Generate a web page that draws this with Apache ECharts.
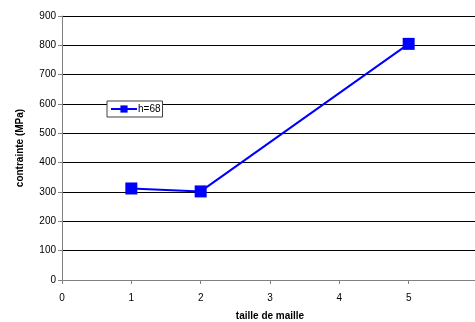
<!DOCTYPE html>
<html><head><meta charset="utf-8">
<script src="https://cdn.jsdelivr.net/npm/echarts@6/dist/echarts.min.js"></script>
<style>html,body{margin:0;padding:0;background:#fff}#c{width:475px;height:322px}</style>
</head><body><div id="c"></div>
<script>
const xValues = [1, 2, 5];
const yValues = [312, 302, 805];
const seriesName = 'h=68';
const xTitle = 'taille de maille';
const yTitle = 'contrainte (MPa)';

const chart = echarts.init(document.getElementById('c'), null, {renderer: 'canvas'});
const font = 'Liberation Sans, Arial, sans-serif';
chart.setOption({
  animation: false,
  backgroundColor: '#fff',
  grid: {left: 62, right: -3, top: 16, bottom: 42, containLabel: false, outerBoundsMode: 'none'},
  legend: {
    show: true, left: 107, top: 101, orient: 'vertical',
    backgroundColor: '#fff', borderColor: '#404040', borderWidth: 1,
    padding: [3, 2, 3, 3], itemWidth: 26, itemHeight: 9, itemGap: 2,
    textStyle: {fontFamily: font, fontSize: 10, color: '#000', padding: [0,0,0,-4]},
    data: [{name: seriesName}]
  },
  xAxis: {
    type: 'value', min: 0, max: 6, interval: 1,
    name: xTitle, nameLocation: 'middle', nameGap: 31,
    nameTextStyle: {fontFamily: font, fontSize: 10, fontWeight: 'bold', color: '#000'},
    axisLine: {show: true, lineStyle: {color: '#808080', width: 1}},
    axisTick: {show: true, inside: false, length: 4, lineStyle: {color: '#808080'}},
    axisLabel: {fontFamily: font, fontSize: 10, color: '#000', margin: 13,
      formatter: v => (Math.abs(v - Math.round(v)) < 1e-6 && v <= 5.5 ? String(Math.round(v)) : '')},
    splitLine: {show: false}
  },
  yAxis: {
    type: 'value', min: 0, max: 900, interval: 100,
    name: yTitle, nameLocation: 'middle', nameGap: 37, nameRotate: 90,
    nameTextStyle: {fontFamily: font, fontSize: 10, fontWeight: 'bold', color: '#000'},
    axisLine: {show: true, lineStyle: {color: '#808080', width: 1}},
    axisTick: {show: true, inside: false, length: 4, lineStyle: {color: '#808080'}},
    axisLabel: {fontFamily: font, fontSize: 10, color: '#000', margin: 6},
    splitLine: {show: true, lineStyle: {color: '#000', width: 1}}
  },
  series: [{
    name: seriesName, type: 'line',
    data: xValues.map((x, i) => [x, yValues[i]]),
    symbol: 'rect', symbolSize: 12,
    itemStyle: {color: '#0000ff'},
    lineStyle: {color: '#0000ff', width: 2}
  }]
});
</script></body></html>
